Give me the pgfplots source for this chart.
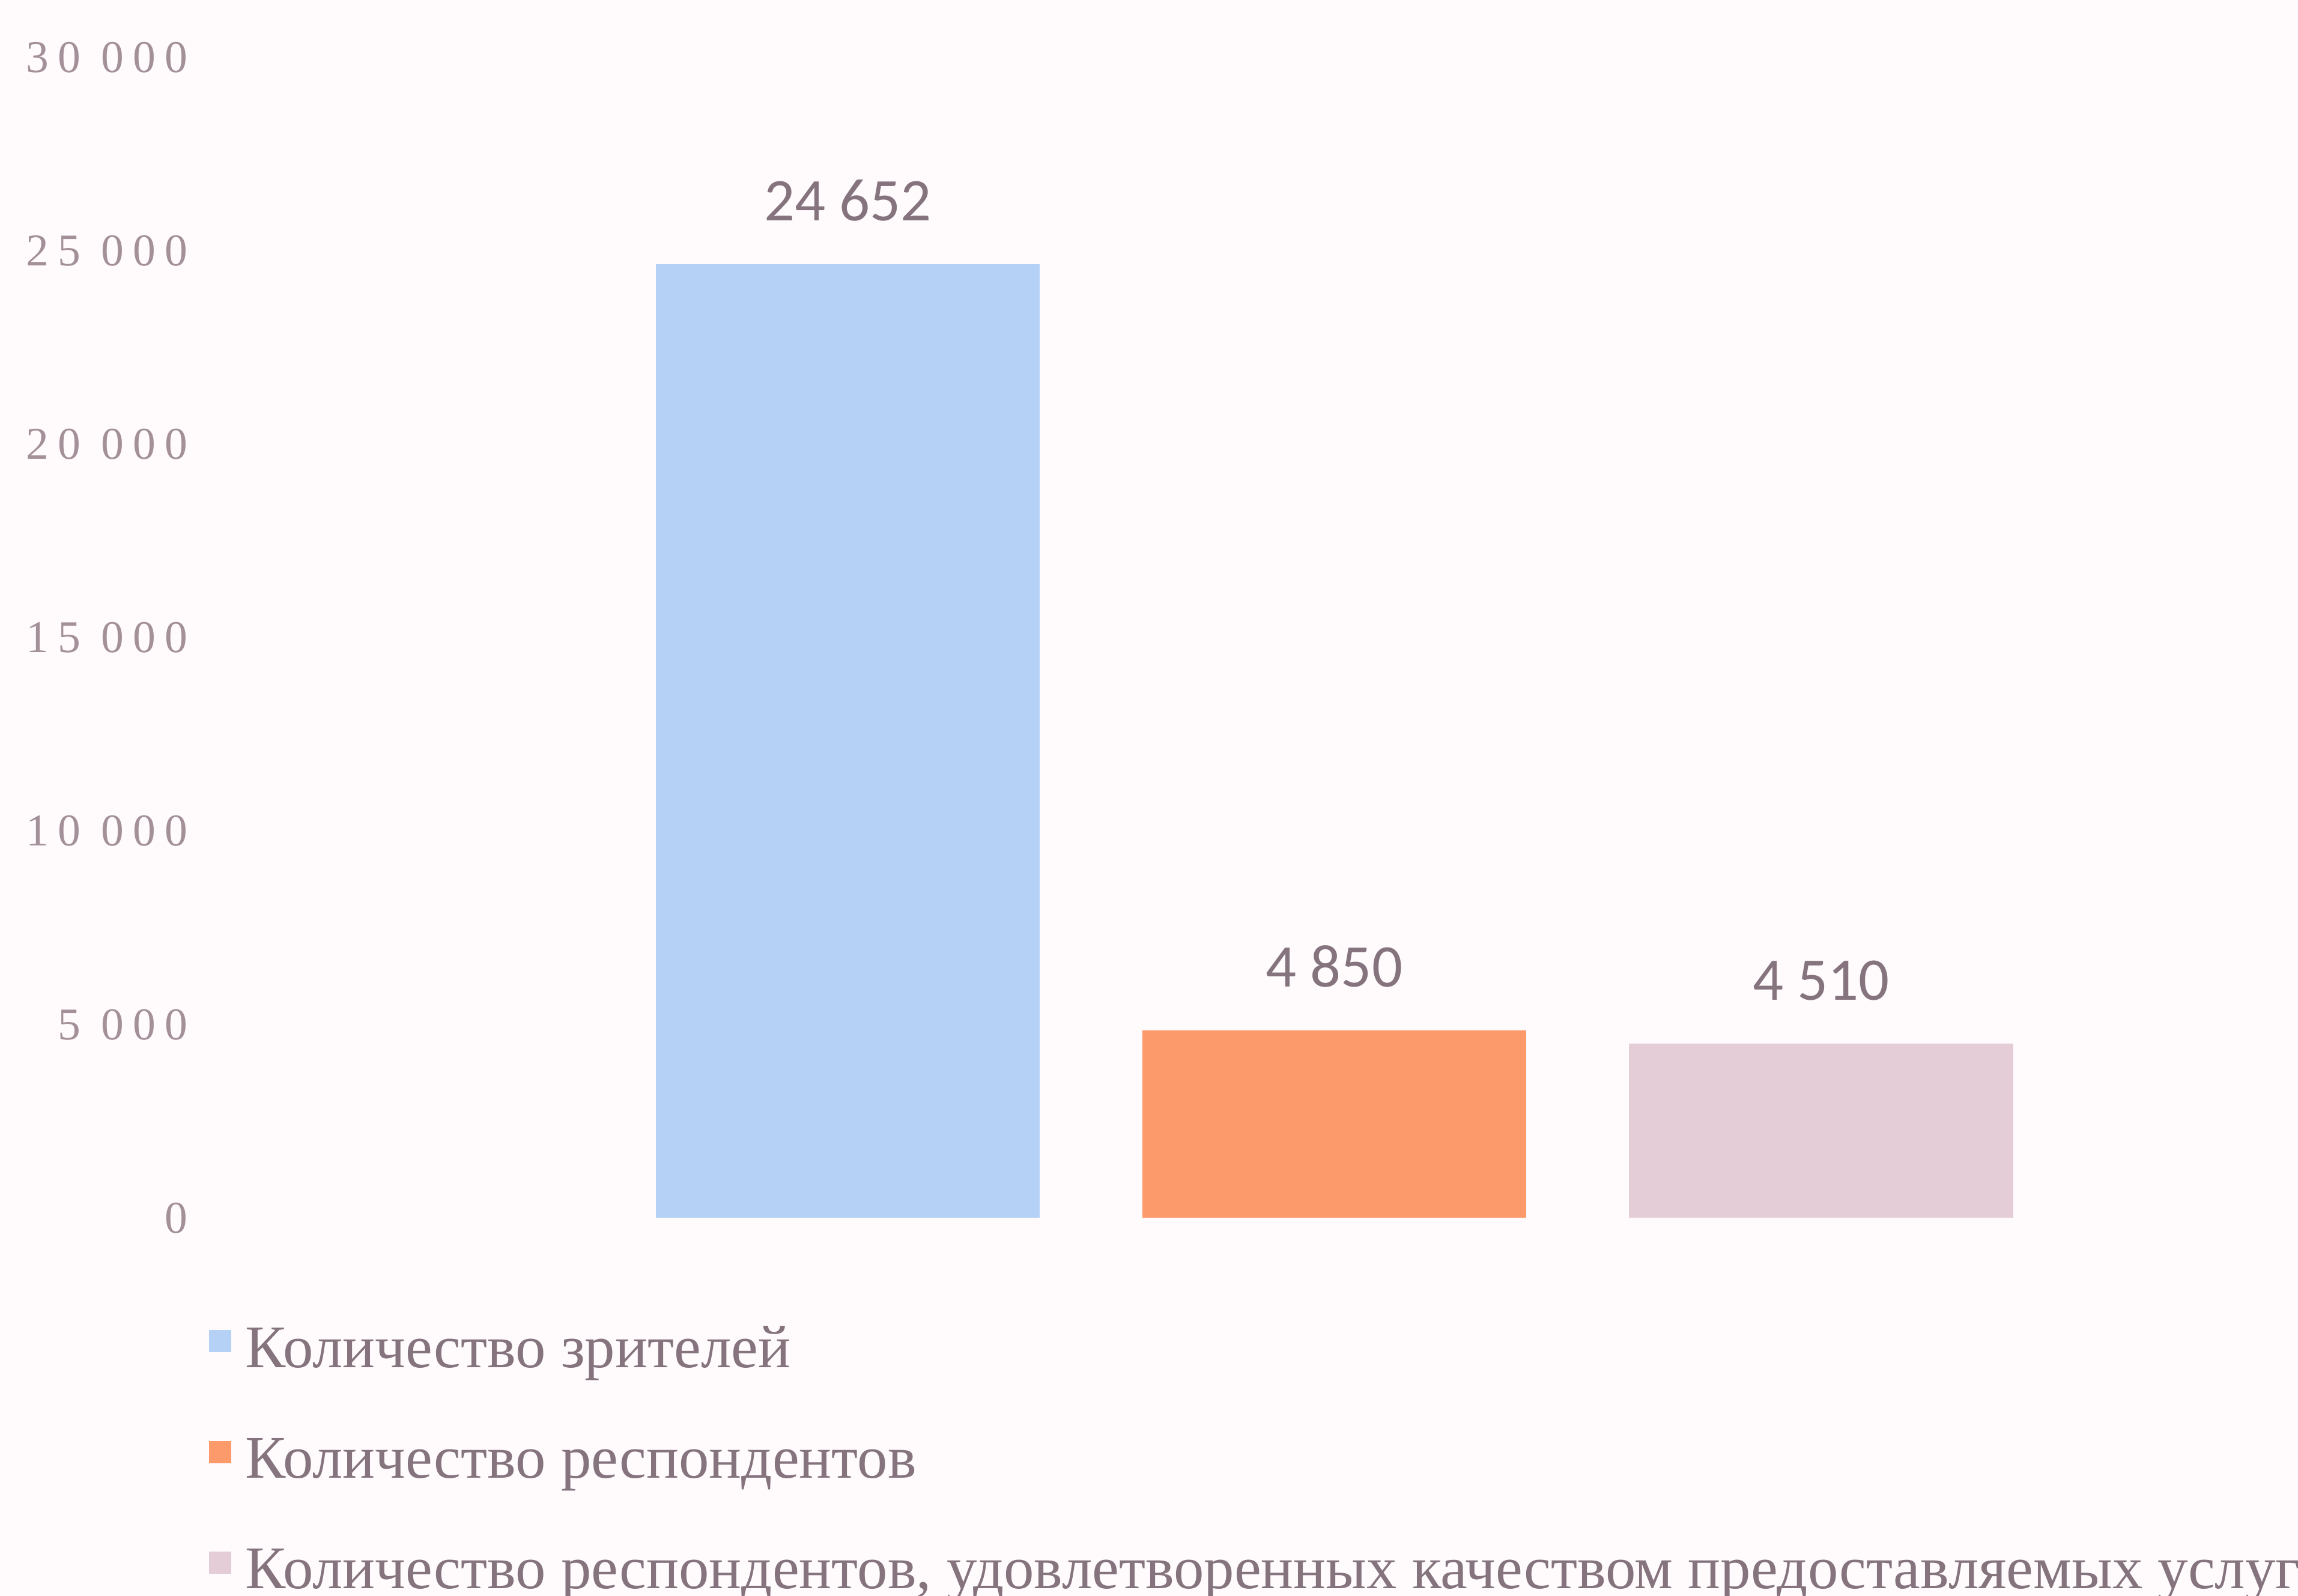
\documentclass[border=0pt]{standalone}
\usepackage{pgfplots}
\pgfplotsset{compat=1.18}
\usepackage{fontspec}
\setmainfont{Liberation Serif}
\newfontfamily\ticksfont[LetterSpace=20]{Liberation Serif}
\newfontfamily\labelfont{Carlito}
\definecolor{bgcol}{HTML}{FFFBFD}
\definecolor{txtcol}{HTML}{85747E}
\definecolor{tickcol}{HTML}{A39099}
\definecolor{barblue}{HTML}{B5D1F5}
\definecolor{barorange}{HTML}{FC9A6C}
\definecolor{barpink}{HTML}{E5CDD8}

\begin{document}
\begin{tikzpicture}
\useasboundingbox[fill=bgcol] (0,0) rectangle (16cm,11.115cm);
\begin{axis}[
    at={(1.4286cm,2.6327cm)}, anchor=south west,
    scale only axis, width=14.571cm, height=8.082cm,
    xmin=-1.32, xmax=2.98, ymin=0, ymax=30000,
    axis line style={draw=none}, tick style={draw=none},
    major tick length=0pt,
    xtick=\empty,
    scaled y ticks=false,
    ytick={0,5000,10000,15000,20000,25000,30000},
    yticklabels={0,5 000,10 000,15 000,20 000,25 000,30 000},
    yticklabel style={font=\ticksfont\fontsize{9}{10}\selectfont, text=tickcol, anchor=east, xshift=0pt},
    ybar, bar width=0.789, bar shift=0pt,
    nodes near coords, point meta=explicit symbolic,
    every node near coord/.append style={font=\labelfont\fontsize{12}{14}\selectfont, text=txtcol, yshift=5pt},
    legend style={at={(axis description cs:-0.006,-0.075)}, anchor=north west,
        draw=none, fill=none, row sep=8.5pt,
        font=\fontsize{12}{14}\selectfont, text=txtcol},
    legend cell align=left,
    sq legend/.style={legend image code/.code={\fill[##1] (0pt,-0.3pt) rectangle (4.4pt,4.1pt); \path (5.3pt,0pt);}},
]
\addplot[fill=barblue, draw=none, sq legend] coordinates {(0,24652) [24 652]};
\addlegendentry{Количество зрителей}
\addplot[fill=barorange, draw=none, sq legend] coordinates {(1,4850) [4 850]};
\addlegendentry{Количество респондентов}
\addplot[fill=barpink, draw=none, sq legend] coordinates {(2,4510) [4 510]};
\addlegendentry{Количество респондентов, удовлетворенных качеством предоставляемых услуг}
\end{axis}
\end{tikzpicture}
\end{document}
